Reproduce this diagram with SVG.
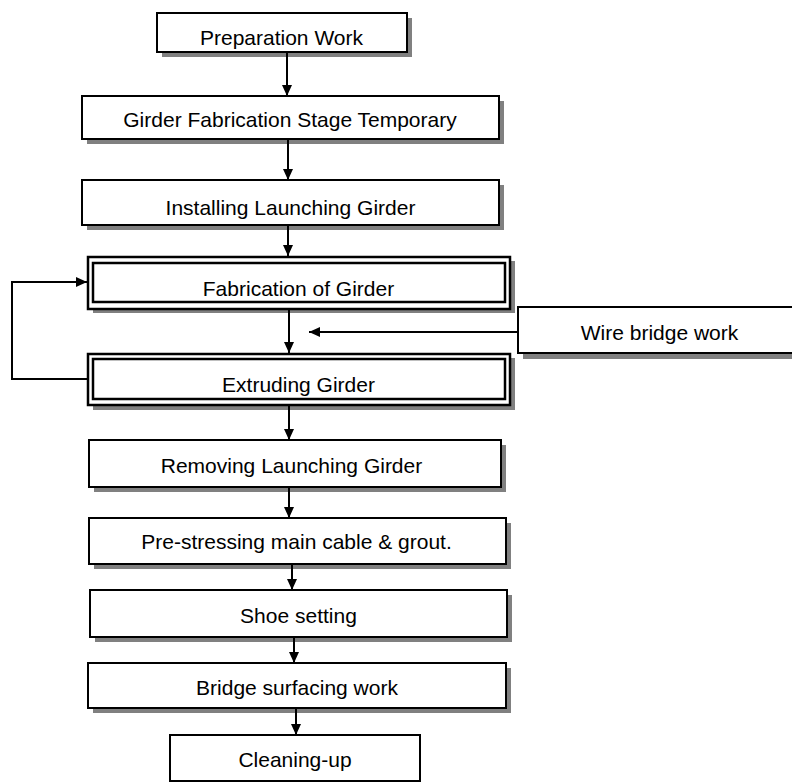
<svg xmlns="http://www.w3.org/2000/svg" width="792" height="782" viewBox="0 0 792 782">
<style>
.box{fill:#fff;stroke:#000;stroke-width:2}
.dbl{fill:#fff;stroke:#000;stroke-width:2.5}
.sh{fill:#808080}
.t{font-family:"Liberation Sans",Arial,sans-serif;font-size:21px;fill:#000;text-anchor:middle}
.c{fill:none;stroke:#000;stroke-width:2}
</style>
<defs>
<marker id="ah" markerUnits="userSpaceOnUse" markerWidth="12" markerHeight="10" refX="11" refY="5" orient="auto">
<path d="M0,0 L11,5 L0,10 z" fill="#000"/>
</marker>
</defs>
<rect width="792" height="782" fill="#fff"/>
<g id="n1"><rect class="sh" x="162" y="18" width="250" height="39"/><rect class="box" x="157" y="13" width="250" height="39"/><text class="t" x="281.5" y="45">Preparation Work</text></g>
<g id="n2"><rect class="sh" x="87" y="101" width="417" height="43"/><rect class="box" x="82" y="96" width="417" height="43"/><text class="t" x="290" y="127">Girder Fabrication Stage Temporary</text></g>
<g id="n3"><rect class="sh" x="87" y="185" width="417" height="45"/><rect class="box" x="82" y="180" width="417" height="45"/><text class="t" x="290.5" y="215">Installing Launching Girder</text></g>
<g id="n4"><rect class="sh" x="93" y="261" width="422" height="52"/><rect class="dbl" x="88" y="257" width="422" height="52"/><rect class="dbl" x="93" y="263" width="412" height="39"/><text class="t" x="298.5" y="296">Fabrication of Girder</text></g>
<g id="n5"><rect class="sh" x="523" y="312" width="280" height="47"/><rect class="box" x="518" y="307" width="280" height="46"/><text class="t" x="659.5" y="340">Wire bridge work</text></g>
<g id="n6"><rect class="sh" x="93" y="358" width="422" height="52"/><rect class="dbl" x="88" y="354" width="422" height="51"/><rect class="dbl" x="93" y="359" width="412" height="40"/><text class="t" x="298.5" y="392">Extruding Girder</text></g>
<g id="n7"><rect class="sh" x="94" y="445" width="412" height="47"/><rect class="box" x="89" y="440" width="412" height="47"/><text class="t" x="291.5" y="473">Removing Launching Girder</text></g>
<g id="n8"><rect class="sh" x="94" y="523" width="417" height="46"/><rect class="box" x="89" y="518" width="417" height="46"/><text class="t" x="296.5" y="549">Pre-stressing main cable &amp; grout.</text></g>
<g id="n9"><rect class="sh" x="95" y="595" width="417" height="47"/><rect class="box" x="90" y="590" width="417" height="47"/><text class="t" x="298.5" y="623">Shoe setting</text></g>
<g id="n10"><rect class="sh" x="93" y="668" width="418" height="45"/><rect class="box" x="88" y="663" width="418" height="45"/><text class="t" x="297" y="695">Bridge surfacing work</text></g>
<g id="n11"><rect class="box" x="170" y="735" width="250" height="46"/><text class="t" x="295" y="767">Cleaning-up</text></g>
<g id="connectors">
<line class="c" x1="287" y1="52" x2="287" y2="96" marker-end="url(#ah)"/>
<line class="c" x1="288" y1="139" x2="288" y2="180" marker-end="url(#ah)"/>
<line class="c" x1="288" y1="225" x2="288" y2="256" marker-end="url(#ah)"/>
<line class="c" x1="289" y1="309" x2="289" y2="353" marker-end="url(#ah)"/>
<line class="c" x1="518" y1="332" x2="309" y2="332" marker-end="url(#ah)"/>
<polyline class="c" points="88,379 12,379 12,282 87,282" marker-end="url(#ah)"/>
<line class="c" x1="289" y1="405" x2="289" y2="440" marker-end="url(#ah)"/>
<line class="c" x1="289" y1="487" x2="289" y2="518" marker-end="url(#ah)"/>
<line class="c" x1="292" y1="564" x2="292" y2="590" marker-end="url(#ah)"/>
<line class="c" x1="294" y1="637" x2="294" y2="663" marker-end="url(#ah)"/>
<line class="c" x1="296" y1="708" x2="296" y2="735" marker-end="url(#ah)"/>
</g>
</svg>
